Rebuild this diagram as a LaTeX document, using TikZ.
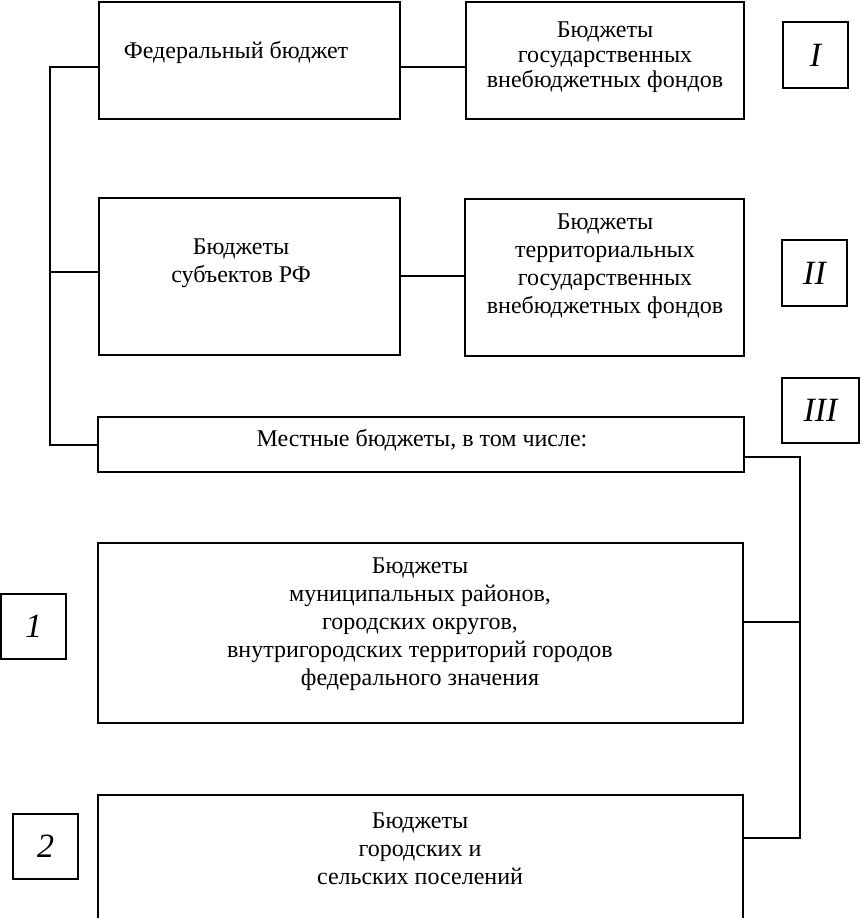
\documentclass[tikz,border=0pt]{standalone}
\usepackage{fontspec}
\setmainfont{Liberation Serif}
\begin{document}
\begin{tikzpicture}[x=1pt,y=-1pt,
  bx/.style={draw, line width=2pt, inner sep=0pt},
  txt/.style={align=center, inner sep=0pt, font=\fontsize{24}{28}\selectfont},
  lbl/.style={draw, line width=2pt, inner sep=0pt, font=\fontsize{34}{34}\selectfont\itshape},
  ln/.style={line width=2pt}]
\useasboundingbox (0,0) rectangle (861,918);
% boxes
\node[bx, minimum width=301pt, minimum height=117pt] (fed) at (249.5,60.5) {};
\node[bx, minimum width=278pt, minimum height=117pt] (fund1) at (605,60.5) {};
\node[bx, minimum width=301pt, minimum height=157pt] (subj) at (249.5,276.5) {};
\node[bx, minimum width=279pt, minimum height=157pt] (fund2) at (604.5,277.5) {};
\node[bx, minimum width=646pt, minimum height=55pt] (local) at (421,444.5) {};
\node[bx, minimum width=645pt, minimum height=180pt] (mun) at (420.5,633) {};
\node[inner sep=0pt, minimum width=645pt, minimum height=123pt] (b2) at (420.5,856.5) {};
\draw[ln] (b2.south west) -- (b2.north west) -- (b2.north east) -- (b2.south east);
\draw[line width=0.6pt, dotted, gray] (b2.south west) -- (b2.south east);
% texts
\node[txt] (fedt) at (236,52) {Федеральный бюджет};
\node[txt, font=\fontsize{24}{25}\selectfont] (fund1t) at (605,57) {Бюджеты\\государственных\\внебюджетных фондов};
\node[txt] (subjt) at (241,263) {Бюджеты\\субъектов РФ};
\node[txt] (fund2t) at (605,266) {Бюджеты\\территориальных\\государственных\\внебюджетных фондов};
\node[txt] (localt) at (422,440) {Местные бюджеты, в том числе:};
\node[txt] (munt) at (420,624) {Бюджеты\\муниципальных районов,\\городских округов,\\внутригородских территорий городов\\федерального значения};
\node[txt] (b2t) at (420,849) {Бюджеты\\городских и\\сельских поселений};
% labels
\node[lbl, minimum width=65pt, minimum height=66pt] (l1) at (815.5,55) {I};
\node[lbl, minimum width=65pt, minimum height=66pt] (l2) at (814.5,273) {II};
\node[lbl, minimum width=77pt, minimum height=65pt] (l3) at (820.5,410.5) {III};
\node[lbl, minimum width=65pt, minimum height=65pt] (n1) at (33.5,626.5) {1};
\node[lbl, minimum width=65pt, minimum height=65pt] (n2) at (45.5,846.5) {2};
% connectors
\coordinate (sp1) at (50,67);
\coordinate (sp2) at (50,272);
\coordinate (sp3) at (50,445);
\coordinate (hc2) at (430,276);
\coordinate (rs1) at (800,457);
\coordinate (rs2) at (800,622);
\coordinate (rs3) at (800,838);
\draw[ln] (fed.west |- sp1) -- (sp1) -- (sp3) -- (local.west |- sp3);
\draw[ln] (sp2) -- (subj.west |- sp2);
\draw[ln] (fed.east |- sp1) -- (fund1.west |- sp1);
\draw[ln] (subj.east |- hc2) -- (fund2.west |- hc2);
\draw[ln] (local.east |- rs1) -- (rs1) -- (rs3) -- (b2.east |- rs3);
\draw[ln] (mun.east |- rs2) -- (rs2);
\end{tikzpicture}
\end{document}
